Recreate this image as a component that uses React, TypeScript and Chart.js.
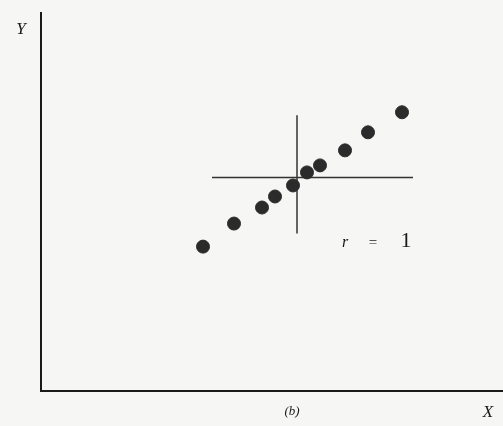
import React, { useEffect, useRef } from "react";
import { Chart, registerables } from "chart.js";

Chart.register(...registerables);

// Scatter points (arbitrary units)
const xValues = [162, 193, 221, 234, 252, 266, 279, 304, 327, 361];
const yValues = [144, 167, 183, 194, 205, 218, 225, 240, 258, 278];
// Cross-hair through the means
const vLineX = [256, 256];
const vLineY = [157, 275];
const hLineX = [171, 372];
const hLineY = [213, 213];
const axisRangeX = [0, 462];
const axisRangeY = [0, 377];
const yLabel = "Y";
const xLabel = "X";
const caption = "(b)";
const rLabel = ["r", "=", "1"];

const textPlugin = {
  id: "texts",
  afterDraw(chart: any) {
    const ctx = chart.ctx;
    const xs = chart.scales.x;
    const ys = chart.scales.y;
    ctx.save();
    ctx.fillStyle = "#1a1a1a";
    ctx.textBaseline = "middle";
    ctx.textAlign = "center";
    ctx.font = "italic 17px 'Liberation Serif', 'DejaVu Serif', serif";
    ctx.fillText(yLabel, xs.left - 20, ys.top + 17);
    ctx.fillText(xLabel, xs.right - 15, ys.bottom + 22);
    ctx.font = "italic 13px 'Liberation Serif', 'DejaVu Serif', serif";
    ctx.fillText(caption, xs.getPixelForValue(251), ys.bottom + 21);
    const ry = ys.getPixelForValue(148);
    ctx.font = "italic 16px 'Liberation Serif', 'DejaVu Serif', serif";
    ctx.fillText(rLabel[0], xs.getPixelForValue(304), ry);
    ctx.font = "15px 'Liberation Serif', 'DejaVu Serif', serif";
    ctx.fillText(rLabel[1], xs.getPixelForValue(332), ry);
    ctx.font = "22px 'Liberation Serif', 'DejaVu Serif', serif";
    ctx.fillText(rLabel[2], xs.getPixelForValue(365), ry - 1);
    ctx.restore();
  },
};

export default function App() {
  const ref = useRef<HTMLCanvasElement>(null);
  useEffect(() => {
    document.body.style.margin = "0";
    document.body.style.background = "#f6f6f4";
    const chart = new Chart(ref.current!, {
      type: "scatter",
      data: {
        datasets: [
          {
            data: xValues.map((x, i) => ({ x, y: yValues[i] })),
            backgroundColor: "#2b2b2b",
            borderColor: "#2b2b2b",
            pointRadius: 6.5,
            pointHoverRadius: 6.5,
          },
          {
            data: vLineX.map((x, i) => ({ x, y: vLineY[i] })),
            showLine: true,
            borderColor: "#333",
            borderWidth: 1.5,
            pointRadius: 0,
          },
          {
            data: hLineX.map((x, i) => ({ x, y: hLineY[i] })),
            showLine: true,
            borderColor: "#333",
            borderWidth: 1.5,
            pointRadius: 0,
          },
        ],
      },
      options: {
        animation: false,
        responsive: false,
        layout: { autoPadding: false, padding: { left: 41, top: 13, right: 0, bottom: 35 } },
        plugins: { legend: { display: false }, tooltip: { enabled: false } },
        scales: {
          x: {
            type: "linear",
            min: axisRangeX[0],
            max: axisRangeX[1],
            grid: { display: false, drawTicks: false },
            ticks: { display: false },
            border: { display: true, color: "#1a1a1a", width: 2 },
          },
          y: {
            type: "linear",
            min: axisRangeY[0],
            max: axisRangeY[1],
            grid: { display: false, drawTicks: false },
            ticks: { display: false },
            border: { display: true, color: "#1a1a1a", width: 2 },
          },
        },
      },
      plugins: [textPlugin],
    });
    return () => chart.destroy();
  }, []);
  return (
    <div style={{ width: 503, height: 426, background: "#f6f6f4" }}>
      <canvas ref={ref} width={503} height={426} />
    </div>
  );
}
